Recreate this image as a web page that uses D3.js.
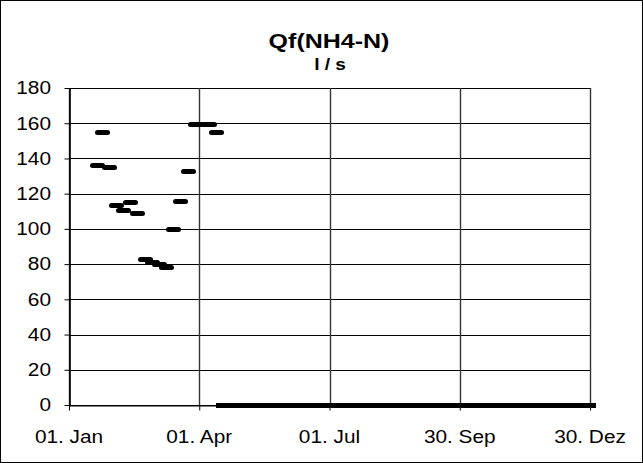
<!DOCTYPE html>
<html>
<head>
<meta charset="utf-8">
<script src="https://cdn.jsdelivr.net/npm/d3@7"></script>
<style>
  html, body { margin: 0; padding: 0; background: #fff; }
  svg { display: block; }
  text { font-family: "Liberation Sans", Arial, sans-serif; fill: #000; }
</style>
</head>
<body>
<svg id="chart" width="643" height="463"></svg>
<script>
// ---- data (day of year, 0 = 01. Jan) ----
const measDays   = [20, 23, 28, 33, 38, 43, 48, 53, 58, 63, 68, 73, 78, 83, 88, 93, 98, 103];
const measValues = [136, 154.5, 135, 113.5, 110.5, 115.2, 108.8, 82.8, 81, 79.8, 78.2, 99.4, 115.3, 132.8, 159, 159, 159, 155];
const zeroDays   = [108,113,118,123,128,133,138,143,148,153,158,163,168,173,178,183,188,193,198,203,208,213,218,223,228,233,238,243,248,253,258,263,268,273,278,283,288,293,298,303,308,313,318,323,328,333,338,343,348,353,358,363];
const zeroValues = zeroDays.map(() => 0);
const xTickDays   = [0, 91, 182, 273, 364];
const xTickLabels = ["01. Jan", "01. Apr", "01. Jul", "30. Sep", "30. Dez"];
const yTicks      = [0, 20, 40, 60, 80, 100, 120, 140, 160, 180];
const titleText   = "Qf(NH4-N)";
const unitText    = "l / s";

(function () {
const svg = d3.select("#chart");
const W = 643, H = 463;
const pLeft = 69, pRight = 590, pTop = 88, pBottom = 405;
const SX = 1.19; // horizontal stretch of the original typography

const x = d3.scaleLinear().domain([0, 364]).range([pLeft, pRight]);
const y = d3.scaleLinear().domain([0, 180]).range([pBottom, pTop]);

// outer frame
svg.append("rect").attr("x", 0.5).attr("y", 0.5).attr("width", W - 1).attr("height", H - 1)
  .attr("fill", "#fff").attr("stroke", "#000").attr("stroke-width", 1);

function stretchedText(tx, ty, str, size, weight, anchor) {
  svg.append("g").attr("transform", `translate(${tx},${ty}) scale(${SX},1)`)
    .append("text").attr("x", 0).attr("y", 0)
    .attr("font-size", size).attr("font-weight", weight)
    .attr("text-anchor", anchor).text(str);
}

// horizontal gridlines
svg.append("g").selectAll("line").data(yTicks).join("line")
  .attr("x1", pLeft).attr("x2", pRight)
  .attr("y1", d => Math.round(y(d)) + 0.5).attr("y2", d => Math.round(y(d)) + 0.5)
  .attr("stroke", "#000").attr("stroke-width", 1);

// vertical gridlines
svg.append("g").selectAll("line").data(xTickDays).join("line")
  .attr("x1", d => Math.round(x(d)) + 0.5).attr("x2", d => Math.round(x(d)) + 0.5)
  .attr("y1", pTop).attr("y2", pBottom)
  .attr("stroke", "#333").attr("stroke-width", 1.4);

// y axis
const yAxis = d3.axisLeft(y).tickValues(yTicks).tickSize(5).tickSizeOuter(0).tickFormat("");
const gy = svg.append("g").attr("transform", `translate(${pLeft + 0.5},0)`).call(yAxis);
gy.selectAll("path, line").attr("stroke", "#000");
gy.select("path").attr("stroke-width", 1.6);
yTicks.forEach(v => stretchedText(51, y(v) + 6.3, String(v), 17.5, "normal", "end"));

// x axis
const xAxis = d3.axisBottom(x).tickValues(xTickDays).tickSize(5).tickSizeOuter(0).tickFormat("");
const gx = svg.append("g").attr("transform", `translate(0,${pBottom + 0.5})`).call(xAxis);
gx.selectAll("path, line").attr("stroke", "#000");
xTickDays.forEach((d, i) => stretchedText(x(d), 443, xTickLabels[i], 17.5, "normal", "middle"));

// markers (dash style)
const dashW = 14.5, dashH = 5;
function dashes(days, vals, r, crisp) {
  const g = svg.append("g");
  if (crisp) g.attr("shape-rendering", "crispEdges");
  g.selectAll("rect").data(days.map((d, i) => [d, vals[i]])).join("rect")
    .attr("x", d => Math.round(x(d[0]) - dashW / 2)).attr("y", d => Math.round(y(d[1]) - dashH / 2))
    .attr("width", Math.round(dashW)).attr("height", dashH)
    .attr("rx", r).attr("ry", r)
    .attr("fill", "#000");
}
dashes(measDays, measValues, dashH / 2, false);
dashes(zeroDays, zeroValues, 0, true);

// titles
stretchedText(329, 48, titleText, 21, "bold", "middle");
stretchedText(330, 70, unitText, 16, "bold", "middle");
})();
</script>
</body>
</html>
